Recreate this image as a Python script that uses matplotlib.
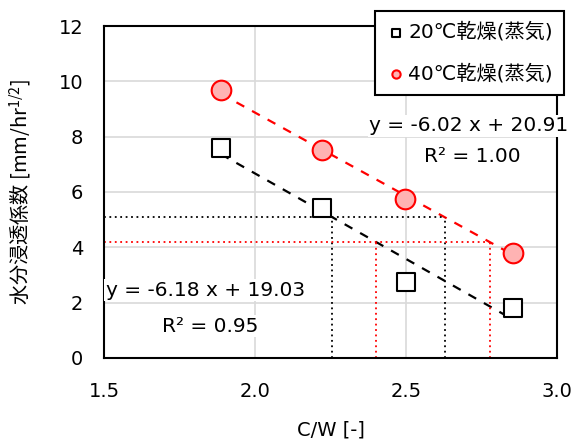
import matplotlib
matplotlib.use("Agg")
import matplotlib.pyplot as plt
import numpy as np

plt.rcParams['font.family'] = ['DejaVu Sans', 'Noto Sans CJK JP']
plt.rcParams['mathtext.fontset'] = 'custom'
plt.rcParams['mathtext.rm'] = 'Noto Sans CJK JP'
plt.rcParams['mathtext.it'] = 'Noto Sans CJK JP'
plt.rcParams['mathtext.bf'] = 'Noto Sans CJK JP'

# data
cw_20 = [1.887, 2.222, 2.50, 2.854]
k_20 = [7.6, 5.42, 2.76, 1.82]
cw_40 = [1.887, 2.222, 2.497, 2.854]
k_40 = [9.67, 7.53, 5.75, 3.78]

fit_20 = (-6.18, 19.03)
fit_40 = (-6.02, 20.91)
ref_black = 5.09
ref_red = 4.19

labels = ['20℃乾燥(蒸気)', '40℃乾燥(蒸気)']

fig = plt.figure(figsize=(5.76, 4.43), dpi=100)
ax = fig.add_axes([0.1806, 0.1919, 0.7864, 0.7494])

ax.set_xlim(1.5, 3.0)
ax.set_ylim(0, 12)
ax.set_xticks([1.5, 2.0, 2.5, 3.0])
ax.set_xticklabels(['1.5', '2.0', '2.5', '3.0'])
ax.set_yticks(range(0, 13, 2))
ax.grid(True, color='#d9d9d9', lw=1.2)
ax.set_axisbelow(True)
for s in ax.spines.values():
    s.set_color('black')
    s.set_linewidth(1.5)
ax.tick_params(length=0, labelsize=14)
ax.tick_params(axis='x', pad=17)
ax.tick_params(axis='y', pad=15)

# trend lines
xs = np.array([min(cw_20), max(cw_20)])
ax.plot(xs, fit_20[0] * xs + fit_20[1], ls=(0, (4, 4)), color='black', lw=1.6, zorder=2)
xs = np.array([min(cw_40), max(cw_40)])
ax.plot(xs, fit_40[0] * xs + fit_40[1], ls=(0, (4, 4)), color='#ff0000', lw=1.6, zorder=2)

# dotted guide lines
for yv, col in [(ref_black, 'black'), (ref_red, '#ff0000')]:
    xa = (yv - fit_20[1]) / fit_20[0]
    xb = (yv - fit_40[1]) / fit_40[0]
    ax.plot([1.5, xb], [yv, yv], ls=(0, (1, 2)), color=col, lw=1.3, zorder=2)
    ax.plot([xa, xa], [0, yv], ls=(0, (1, 2)), color=col, lw=1.3, zorder=2)
    ax.plot([xb, xb], [0, yv], ls=(0, (1, 2)), color=col, lw=1.3, zorder=2)

ax.scatter(cw_20, k_20, marker='s', s=170, facecolor='white', edgecolor='black',
           lw=1.5, zorder=4, label=labels[0])
ax.scatter(cw_40, k_40, marker='o', s=200, facecolor='#ffb3b3', edgecolor='#ff0000',
           lw=1.5, zorder=4, label=labels[1])

# equations
ax.text(1.505, 2.45, 'y = -6.18 x + 19.03', fontsize=14.5, ha='left', va='center',
        bbox=dict(fc='white', ec='none', pad=1), zorder=3)
ax.text(1.85, 1.15, 'R² = 0.95', fontsize=14.5, ha='center', va='center',
        bbox=dict(fc='white', ec='none', pad=1), zorder=3)
ax.text(2.709, 8.4, 'y = -6.02 x + 20.91', fontsize=14.5, ha='center', va='center',
        bbox=dict(fc='white', ec='none', pad=1), zorder=3, clip_on=False)
ax.text(2.718, 7.27, 'R² = 1.00', fontsize=14.5, ha='center', va='center',
        bbox=dict(fc='white', ec='none', pad=1), zorder=3)

leg = ax.legend(loc='upper left', bbox_to_anchor=(0.598, 1.045), fontsize=14.5,
                frameon=True, fancybox=False, edgecolor='black', framealpha=1,
                handletextpad=0.1, borderpad=0.55, labelspacing=1.1,
                markerscale=0.42, handlelength=1.0, borderaxespad=0)
leg.get_frame().set_linewidth(1.5)

ax.set_xlabel('C/W [-]', fontsize=14, labelpad=14)
ax.set_ylabel('水分浸透係数 [mm/hr$^{1/2}$]', fontsize=14.5, labelpad=18,
              family=['Noto Sans CJK JP'])

fig.savefig('out.png', dpi=100)
